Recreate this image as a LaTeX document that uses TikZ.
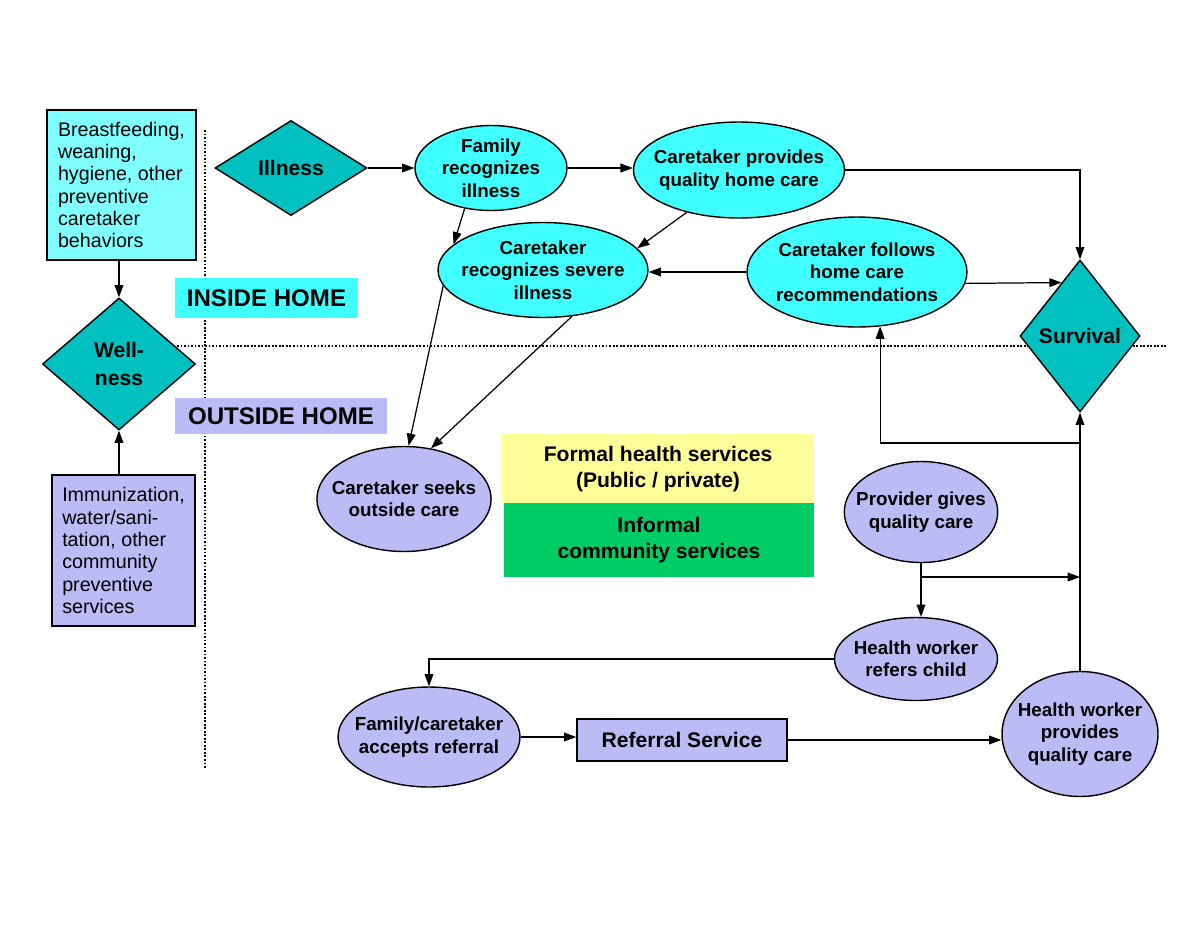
\documentclass[tikz,border=0pt]{standalone}
\usepackage{fontspec}
\setmainfont{Liberation Sans}
\usetikzlibrary{arrows.meta,shapes.geometric,positioning,calc}
\definecolor{homecyan}{RGB}{64,255,255}
\definecolor{palecyan}{RGB}{128,255,255}
\definecolor{tealdiam}{RGB}{0,192,192}
\definecolor{outlav}{RGB}{187,187,245}
\definecolor{formyellow}{RGB}{255,255,153}
\definecolor{informgreen}{RGB}{0,204,102}

\begin{document}
\begin{tikzpicture}[x=0.02cm, y=-0.02cm,
    oval/.style={ellipse, draw, line width=0.8pt, inner xsep=-6pt, inner ysep=-2pt, align=center, font=\bfseries\fontsize{10.7}{12.8}\selectfont},
    homeoval/.style={oval, fill=homecyan},
    outoval/.style={oval, fill=outlav},
    decision/.style={diamond, draw, line width=0.8pt, fill=tealdiam, inner sep=0pt, align=center, font=\bfseries\fontsize{12}{16}\selectfont},
    prevbox/.style={rectangle, draw, line width=0.8pt, inner sep=0pt, align=left, font=\fontsize{11.2}{12.7}\selectfont},
    zonelabel/.style={rectangle, inner sep=0pt, font=\bfseries\fontsize{13.7}{16}\selectfont},
    servbox/.style={rectangle, inner sep=0pt, align=center, font=\bfseries\fontsize{12}{15}\selectfont},
    flow/.style={-{Triangle[length=7pt,width=5pt]}, line width=0.7pt},
    divider/.style={line width=0.8pt, dash pattern=on 1pt off 1pt}]
    \useasboundingbox (0,0) rectangle (1200,927);

    % inside / outside home
    \draw[divider] (170,346) -- (1167,346);
    \draw[divider] (205,130) -- (205,768);
    \node[zonelabel, fill=homecyan, minimum width=3.66cm, minimum height=0.8cm] (insidelbl) at (266.5,298) {INSIDE HOME};
    \node[zonelabel, fill=outlav, minimum width=4.24cm, minimum height=0.72cm] (outsidelbl) at (281,416) {OUTSIDE HOME};

    \node[prevbox, fill=palecyan, minimum width=2.98cm, minimum height=3cm] (homeprev) at (121.5,185) {Breastfeeding,\\weaning,\\hygiene, other\\preventive\\caretaker\\behaviors};
    \node[prevbox, fill=outlav, minimum width=2.86cm, minimum height=3.02cm] (commprev) at (123.5,550.5) {Immunization,\\water/sani-\\tation, other\\community\\preventive\\services};
    \node[decision, minimum width=3.06cm, minimum height=2.64cm] (wellness) at (119,364) {Well-\\ness};
    \node[decision, minimum width=3.04cm, minimum height=1.9cm] (illness) at (291,168) {Illness};
    \node[decision, minimum width=2.4cm, minimum height=3.04cm] (survival) at (1080,336) {Survival};

    \node[homeoval, minimum width=3.04cm, minimum height=1.7cm] (famrec) at (491,168) {Family\\recognizes\\illness};
    \node[homeoval, minimum width=4.2cm, minimum height=1.92cm] (provides) at (739,170) {Caretaker provides\\quality home care};
    \node[homeoval, minimum width=4.2cm, minimum height=1.9cm] (severe) at (543,270) {Caretaker\\recognizes severe\\illness};
    \node[homeoval, minimum width=4.4cm, minimum height=2.2cm] (follows) at (857,272) {Caretaker follows\\home care\\recommendations};

    \node[outoval, minimum width=3.36cm, minimum height=2.1cm] (seeks) at (404,499) {Caretaker seeks\\outside care};
    \node[outoval, minimum width=3.06cm, minimum height=2.02cm] (provider) at (921,512) {Provider gives\\quality care};
    \node[outoval, minimum width=3.26cm, minimum height=1.66cm] (refers) at (916,659) {Health worker\\refers child};
    \node[outoval, minimum width=3.64cm, minimum height=2cm] (accepts) at (429,737) {Family/caretaker\\accepts referral};
    \node[outoval, minimum width=3.12cm, minimum height=2.5cm] (hwcare) at (1080,734) {Health worker\\provides\\quality care};
    \node[servbox, draw, line width=0.8pt, fill=outlav, minimum width=4.2cm, minimum height=0.84cm] (referral) at (682,740) {Referral Service};

    \node[servbox, fill=formyellow, minimum width=6.24cm, minimum height=1.4cm] (formal) at (658,469) {Formal health services\\(Public / private)};
    \node[servbox, fill=informgreen, minimum width=6.2cm, minimum height=1.48cm] (informal) at (659,540) {Informal\\community services};

    % prevention
    \draw[flow] (wellness.north |- homeprev.south) -- (wellness.north);
    \draw[flow] (wellness.south |- commprev.north) -- (wellness.south);

    % home care
    \draw[flow] (illness.east) -- (famrec.west);
    \draw[flow] (famrec.east) -- (famrec.east -| provides.west);
    \draw[flow] (provides.east) -| (survival.north);
    \draw[flow] (famrec.237) -- (severe.164);
    \draw[flow] (provides.219) -- (severe.13);
    \draw[flow] (follows.west) -- (follows.west -| severe.east);
    \draw[flow] (follows.-6) -- (survival.109);
    \draw[flow] (severe.189) -- (seeks.85);
    \draw[flow] (severe.302) -- (seeks.62);

    % outside care
    \coordinate (tee) at (hwcare.north |- 0,443);
    \coordinate (split) at (provider.south |- 0,577);
    \draw[flow] (hwcare.north) -- (survival.south);
    \draw[flow] (tee) -| (follows.293);
    \draw[flow] (provider.south) -- (provider.south |- refers.north);
    \draw[flow] (split) -- (split -| survival.south);
    \draw[flow] (refers.west) -| (accepts.north);
    \draw[flow] (accepts.east) -- (accepts.east -| referral.west);
    \draw[flow] (referral.east) -- (referral.east -| hwcare.west);
\end{tikzpicture}
\end{document}
